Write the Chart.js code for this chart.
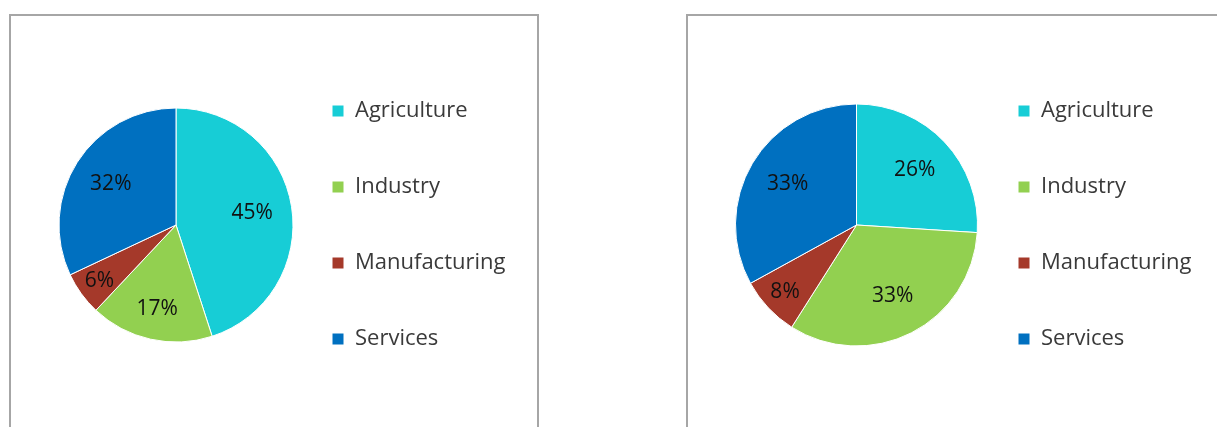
<!DOCTYPE html>
<html>
<head>
<meta charset="utf-8">
<script src="https://cdn.jsdelivr.net/npm/chart.js@4.4.1/dist/chart.umd.min.js"></script>
<style>
  html, body { margin: 0; padding: 0; background: #fff; overflow: hidden; }
  .box {
    position: absolute;
    top: 14px;
    border: 2px solid #a6a6a6;
    background: #fff;
  }
  #boxA { left: 9px; width: 526px; height: 430px; }
  #boxB { left: 686px; width: 536px; height: 430px; }
</style>
</head>
<body>
<div class="box" id="boxA"><canvas id="pieA" width="526" height="418"></canvas></div>
<div class="box" id="boxB"><canvas id="pieB" width="536" height="418"></canvas></div>
<script>
const sectors = ['Agriculture', 'Industry', 'Manufacturing', 'Services']
const sharesA = [45, 17, 6, 32]
const sharesB = [26, 33, 8, 33]
const colors = ['#17cdd6', '#92d050', '#a5392a', '#0070c0']

const font = "'Open Sans', 'Noto Sans', sans-serif"
const legendSize = 22
const legendPad = 54
const swatch = 12

// percentage text inside each slice, small slices pushed further out
const sliceLabels = {
    id: 'sliceLabels',
    afterDatasetsDraw(chart) {
        const ctx = chart.ctx
        const meta = chart.getDatasetMeta(0)
        const values = chart.data.datasets[0].data
        ctx.save()
        ctx.fillStyle = '#111'
        ctx.font = '21px ' + font
        ctx.textAlign = 'center'
        ctx.textBaseline = 'middle'
        meta.data.forEach((arc, i) => {
            const v = values[i]
            const mid = (arc.startAngle + arc.endAngle) / 2
            const frac = v < 10 ? 0.81 : (v < 20 ? 0.74 : 0.66)
            const r = arc.outerRadius * frac
            ctx.fillText(v + '%', arc.x + Math.cos(mid) * r, arc.y + Math.sin(mid) * r)
        })
        ctx.restore()
    }
}

// width the right-hand legend will take (chart.js adds 10px to vertical legends)
function legendWidth() {
    const c = document.createElement('canvas').getContext('2d')
    c.font = legendSize + 'px ' + font
    const widest = Math.max(...sectors.map(s => c.measureText(s).width))
    return legendPad + swatch + legendSize / 2 + widest + 10
}

// cx = pie centre, lx = swatch left edge (canvas coords)
function makePie(el, values, radius, cx, lx) {
    const canvas = document.getElementById(el)
    const legLeft = lx - legendPad
    const pad = {
        left: 2 * cx - legLeft,
        right: canvas.width - legLeft - legendWidth(),
        top: 0,
        bottom: 0
    }
    return new Chart(canvas, {
        type: 'pie',
        data: {
            labels: sectors,
            datasets: [{
                data: values,
                backgroundColor: colors,
                borderColor: '#ffffff',
                borderWidth: 1,
                radius: radius
            }]
        },
        options: {
            responsive: false,
            animation: false,
            layout: { padding: pad },
            plugins: {
                tooltip: { enabled: false },
                legend: {
                    position: 'right',
                    align: 'center',
                    maxWidth: 400,
                    labels: {
                        boxWidth: swatch,
                        boxHeight: swatch,
                        padding: legendPad,
                        color: '#3a3a3a',
                        font: { size: legendSize, family: font }
                    }
                }
            }
        },
        plugins: [sliceLabels]
    })
}

makePie('pieA', sharesA, 117, 165, 321)
makePie('pieB', sharesB, 121, 168.5, 330)
</script>
</body>
</html>
